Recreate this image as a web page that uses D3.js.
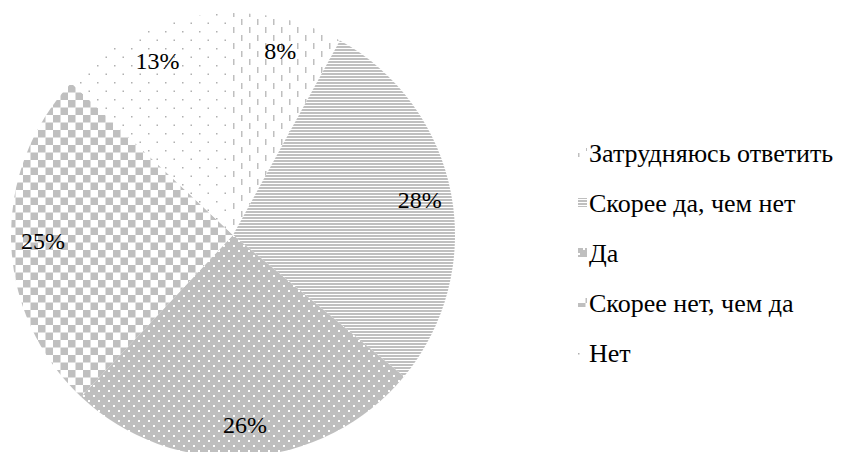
<!DOCTYPE html>
<html><head><meta charset="utf-8">
<script src="https://cdn.jsdelivr.net/npm/d3@7"></script>
<style>html,body{margin:0;padding:0;background:#fff;}svg{display:block;}
.serif{font-family:"Liberation Serif","Times New Roman",serif;}</style>
</head><body>
<svg id="chart" width="845" height="452"></svg>
<script>
const categories = ["Затрудняюсь ответить", "Скорее да, чем нет", "Да", "Скорее нет, чем да", "Нет"];
const values = [8, 28, 26, 25, 13];
const labels = ["8%", "28%", "26%", "25%", "13%"];
const patternIds = ["pVdash", "pHline", "pDots", "pChecker", "pSparse"];

const svg = d3.select("#chart");
const defs = svg.append("defs");
const G = "#bfbfbf";

// Dashed vertical
let p = defs.append("pattern").attr("id", "pVdash").attr("patternUnits", "userSpaceOnUse").attr("width", 16).attr("height", 16);
p.append("rect").attr("width", 16).attr("height", 16).attr("fill", "#fff");
p.append("rect").attr("x", 0).attr("y", 0).attr("width", 1.5).attr("height", 6).attr("fill", G);
p.append("rect").attr("x", 8).attr("y", 8).attr("width", 1.5).attr("height", 6).attr("fill", G);
// Horizontal lines
p = defs.append("pattern").attr("id", "pHline").attr("patternUnits", "userSpaceOnUse").attr("width", 8).attr("height", 3);
p.append("rect").attr("width", 8).attr("height", 3).attr("fill", "#fff");
p.append("rect").attr("x", 0).attr("y", 0).attr("width", 8).attr("height", 2).attr("fill", G);
// Gray with white dots
p = defs.append("pattern").attr("id", "pDots").attr("patternUnits", "userSpaceOnUse").attr("width", 10).attr("height", 10);
p.append("rect").attr("width", 10).attr("height", 10).attr("fill", G);
p.append("rect").attr("x", 0).attr("y", 0).attr("width", 2).attr("height", 2).attr("fill", "#fff");
p.append("rect").attr("x", 5).attr("y", 5).attr("width", 2).attr("height", 2).attr("fill", "#fff");
// Checkerboard
p = defs.append("pattern").attr("id", "pChecker").attr("patternUnits", "userSpaceOnUse").attr("width", 15).attr("height", 15);
p.append("rect").attr("width", 15).attr("height", 15).attr("fill", "#fff");
p.append("rect").attr("x", 0).attr("y", 0).attr("width", 7.5).attr("height", 7.5).attr("fill", G);
p.append("rect").attr("x", 7.5).attr("y", 7.5).attr("width", 7.5).attr("height", 7.5).attr("fill", G);
// Sparse dots
p = defs.append("pattern").attr("id", "pSparse").attr("patternUnits", "userSpaceOnUse").attr("width", 17).attr("height", 17);
p.append("rect").attr("width", 17).attr("height", 17).attr("fill", "#fff");
p.append("rect").attr("x", 0).attr("y", 0).attr("width", 1.5).attr("height", 1.5).attr("fill", "#b0b0b0");
p.append("rect").attr("x", 8.5).attr("y", 8.5).attr("width", 1.5).attr("height", 1.5).attr("fill", "#b0b0b0");

const cx = 233, cy = 235, r = 222, rl = 190;
const pie = d3.pie().sort(null).value(d => d)(values);
const arc = d3.arc().innerRadius(0).outerRadius(r);
const labelArc = d3.arc().innerRadius(rl).outerRadius(rl);

const g = svg.append("g").attr("transform", `translate(${cx},${cy})`);
g.selectAll("path").data(pie).join("path")
  .attr("d", arc)
  .attr("fill", (d, i) => `url(#${patternIds[i]})`);

g.selectAll("text").data(pie).join("text")
  .attr("class", "serif")
  .attr("transform", d => `translate(${labelArc.centroid(d)})`)
  .attr("text-anchor", "middle")
  .attr("dy", "0.35em")
  .style("font-size", "24px")
  .attr("fill", "#000")
  .text((d, i) => labels[i]);

const legY = d3.scalePoint().domain(categories).range([153, 353]);
const leg = svg.append("g");
const items = leg.selectAll("g").data(categories).join("g")
  .attr("transform", d => `translate(578,${legY(d)})`);
items.append("rect").attr("x", 0).attr("y", -5).attr("width", 9).attr("height", 9)
  .attr("fill", (d, i) => `url(#${patternIds[i]})`);
items.append("text").attr("class", "serif").attr("x", 11).attr("dy", "0.35em")
  .style("font-size", "26px").attr("fill", "#000")
  .text(d => d);
</script>
</body></html>
